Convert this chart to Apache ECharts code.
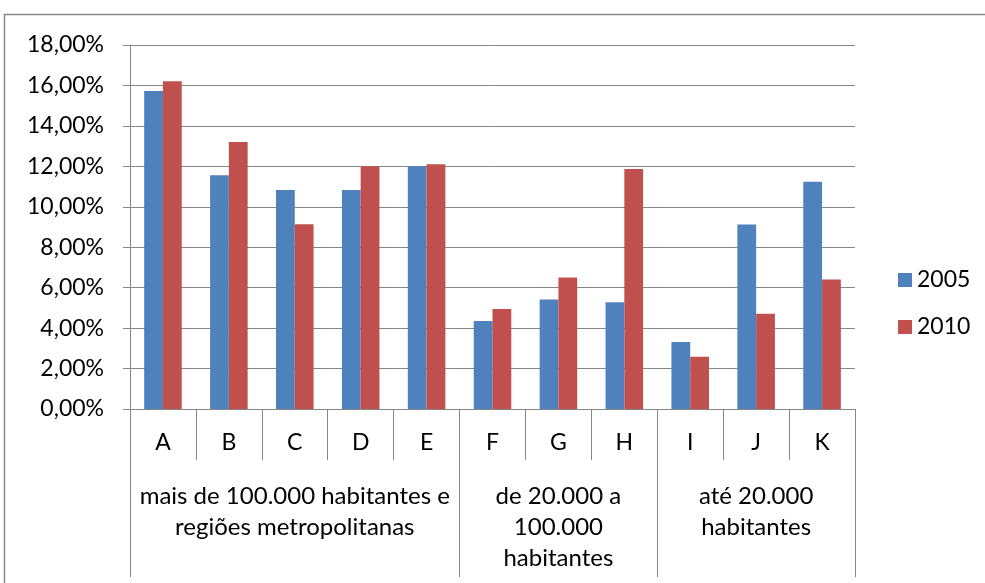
<!DOCTYPE html>
<html>
<head>
<meta charset="utf-8">
<script src="https://cdn.jsdelivr.net/npm/echarts@6/dist/echarts.min.js"></script>
<style>
  html, body { margin: 0; padding: 0; background: #fff; }
  #chart { width: 985px; height: 583px; }
</style>
</head>
<body>
<div id="chart"></div>
<script>
// Categories and the population groups they belong to
const categories = ['A', 'B', 'C', 'D', 'E', 'F', 'G', 'H', 'I', 'J', 'K'];
const groupNames = [
  'mais de 100.000 habitantes e\nregiões metropolitanas',
  'de 20.000 a\n100.000\nhabitantes',
  'até 20.000\nhabitantes'
];
const groupSizes = [5, 3, 3];

// Shares in percent
const values2005 = [15.72, 11.56, 10.83, 10.83, 12.0, 4.35, 5.41, 5.28, 3.31, 9.12, 11.24];
const values2010 = [16.21, 13.2, 9.14, 12.0, 12.1, 4.94, 6.5, 11.87, 2.58, 4.71, 6.4];

// Y-axis range (percent)
const yMin = 0, yMax = 18, yStep = 2;

// Group label placed on the middle category of each group; separators on group boundaries
const groupAxisLabels = categories.map(() => '');
const groupBoundaries = [];
let start = 0;
groupSizes.forEach((size, g) => {
  groupBoundaries.push(start);
  groupAxisLabels[start + Math.floor(size / 2)] = groupNames[g];
  start += size;
});

const gray = '#878787';
const font = 'Lato';
const fontSize = 23;

const chart = echarts.init(document.getElementById('chart'), null, { renderer: 'canvas' });
chart.setOption({
  animation: false,
  textStyle: { fontFamily: font },
  grid: { left: 130, right: 130, top: 45, bottom: 174, containLabel: false },
  legend: {
    orient: 'vertical',
    left: 898,
    top: 267,
    padding: 0,
    icon: 'rect',
    itemWidth: 14,
    itemHeight: 14,
    itemGap: 21,
    textStyle: { fontFamily: font, fontSize: fontSize, color: '#000', lineHeight: 26 },
    data: ['2005', '2010']
  },
  xAxis: [
    {
      type: 'category',
      data: categories,
      position: 'bottom',
      axisLine: { onZero: false, lineStyle: { color: gray, width: 1 } },
      axisTick: { show: true, interval: 0, length: 51, lineStyle: { color: gray, width: 1 } },
      axisLabel: { interval: 0, margin: 21, fontFamily: font, fontSize: fontSize, color: '#000', lineHeight: 26 }
    },
    {
      type: 'category',
      data: groupAxisLabels,
      position: 'bottom',
      axisLine: { show: false, onZero: false },
      axisTick: {
        show: true,
        length: 168,
        interval: (i) => groupBoundaries.includes(i),
        lineStyle: { color: gray, width: 1 }
      },
      axisLabel: {
        interval: 0,
        margin: 72,
        fontFamily: font,
        fontSize: 24,
        color: '#000',
        lineHeight: 31,
        align: 'center'
      }
    }
  ],
  yAxis: {
    type: 'value',
    min: yMin,
    max: yMax,
    interval: yStep,
    axisLine: { show: true, lineStyle: { color: gray, width: 1 } },
    axisTick: { show: true, length: 7, lineStyle: { color: gray, width: 1 } },
    splitLine: { show: true, lineStyle: { color: gray, width: 1 } },
    axisLabel: {
      margin: 26,
      fontFamily: font,
      fontSize: fontSize,
      color: '#000',
      formatter: (v) => v.toFixed(2).replace('.', ',') + '%'
    }
  },
  series: [
    {
      name: '2005',
      type: 'bar',
      xAxisIndex: 0,
      data: values2005,
      barGap: '0%',
      barCategoryGap: '43%',
      itemStyle: { color: '#4F81BD' }
    },
    {
      name: '2010',
      type: 'bar',
      xAxisIndex: 0,
      data: values2010,
      barGap: '0%',
      barCategoryGap: '43%',
      itemStyle: { color: '#C0504D' }
    }
  ],
  graphic: [
    {
      type: 'rect',
      silent: true,
      z: -10,
      shape: { x: 4.5, y: 14.5, width: 1000, height: 600 },
      style: { fill: null, stroke: gray, lineWidth: 1.5 }
    }
  ]
});
</script>
</body>
</html>
